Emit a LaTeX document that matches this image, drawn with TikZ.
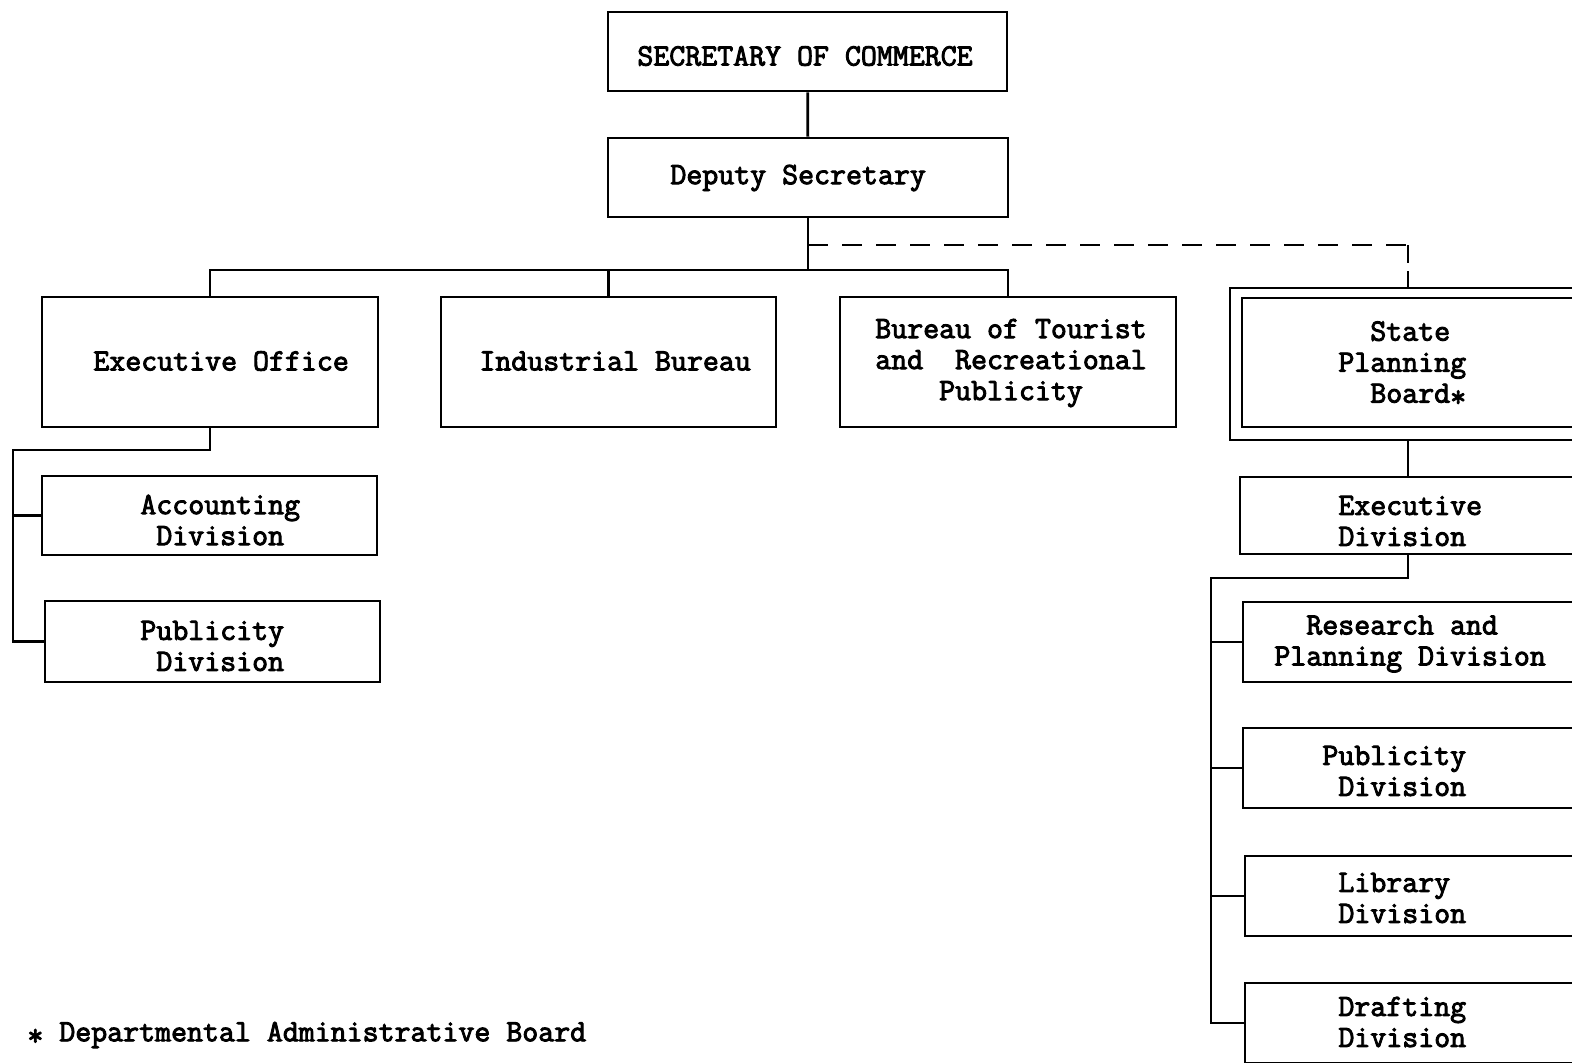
\documentclass[tikz,border=0pt]{standalone}
\usepackage{fontspec}
\newfontfamily\typewriter{Latin Modern Mono}[FakeBold=3]
\usetikzlibrary{fit}
\newcommand{\lowstar}{\raisebox{-0.3ex}{*}}
\begin{document}
\begin{tikzpicture}[x=0.5pt,y=-0.5pt,
  box/.style={draw, line width=1.4pt, rectangle, inner sep=0pt},
  txt/.style={inner sep=0pt, anchor=west, align=left,
    font=\typewriter\fontsize{15.5}{15.5}\selectfont},
  ctxt/.style={txt, anchor=center, align=center},
  link/.style={draw, line width=1.4pt},
  dashed link/.style={link, dash pattern=on 10pt off 7pt}]
\useasboundingbox (0,0) rectangle (1572,1062);
\clip (0,0) rectangle (1572,1062);

% top of the department
\node[box, fit={(608,12) (1007,91)}] (sec) {};
\node[txt] (sectxt) at (637,56) {SECRETARY OF COMMERCE};
\node[box, fit={(608,138) (1008,217)}] (dep) {};
\node[txt] (deptxt) at (670,178) {Deputy Secretary};

% bureaus
\node[box, fit={(42,297) (378,427)}] (exec) {};
\node[txt] (exectxt) at (93,361) {Executive Office};
\node[box, fit={(441,297) (776,427)}] (ind) {};
\node[txt] (indtxt) at (479,361) {Industrial Bureau};
\node[box, fit={(840,297) (1176,427)}] (tour) {};
\node[ctxt] (tourtxt) at (1011,363) {Bureau of Tourist\\and\ \ Recreational\\Publicity};

% state planning board (double frame)
\node[box, fit={(1230,288) (1640,440)}] (spbO) {};
\node[box, fit={(1242,298) (1640,427)}] (spbI) {};
\node[txt] (spbtxt) at (1338,364) {\phantom{Pl}State\\Planning\\\phantom{Pl}Board\lowstar};

% divisions under the executive office
\node[box, fit={(42,476) (377,555)}] (acct) {};
\node[txt] (accttxt) at (140,520) {Accounting\\\phantom{A}Division};
\node[box, fit={(45,601) (380,682)}] (lpub) {};
\node[txt] (lpubtxt) at (140,646) {Publicity\\\phantom{P}Division};

% divisions under the state planning board
\node[box, fit={(1240,477) (1640,554)}] (ediv) {};
\node[txt] (edivtxt) at (1338,521) {Executive\\Division};
\node[box, fit={(1243,602) (1640,682)}] (res) {};
\node[txt] (restxt) at (1274,644) {\phantom{Re}Research and\\Planning Division};
\node[box, fit={(1243,728) (1640,808)}] (rpub) {};
\node[txt] (rpubtxt) at (1322,771) {Publicity\\\phantom{P}Division};
\node[box, fit={(1245,856) (1640,936)}] (lib) {};
\node[txt] (libtxt) at (1338,898) {Library\\Division};
\node[box, fit={(1245,983) (1640,1063)}] (draft) {};
\node[txt] (drafttxt) at (1338,1022) {Drafting\\Division};

% footnote
\node[txt] (note) at (27,1035) {\lowstar{} Departmental Administrative Board};

% connectors
\coordinate (bus) at (808,270);
\coordinate (dsh) at (808,245);
\coordinate (spbx) at (1408,245);
\coordinate (rbus) at (1211,578);
\coordinate (lbus) at (13,450);

\draw[link] (sec) -- (dep);
\draw[link] (dep.south) -- (bus);
\draw[link] (exec.north) |- (bus) -| (tour.north);
\draw[link] (ind.north) -- (ind.north |- bus);
\draw[dashed link] (dsh) -- (spbx);
\draw[link, dash pattern=on 9pt off 4pt] (spbx) -- (spbO.north -| spbx);

\draw[link] (spbO.south -| spbx) -- (ediv.north -| spbx);
\draw[link] (ediv.south -| spbx) |- (rbus) |- (draft.west);
\draw[link] (rbus |- res.west) -- (res.west);
\draw[link] (rbus |- rpub.west) -- (rpub.west);
\draw[link] (rbus |- lib.west) -- (lib.west);

\draw[link] (exec.south) |- (lbus) |- (lpub.west);
\draw[link] (lbus |- acct.west) -- (acct.west);
\end{tikzpicture}
\end{document}
